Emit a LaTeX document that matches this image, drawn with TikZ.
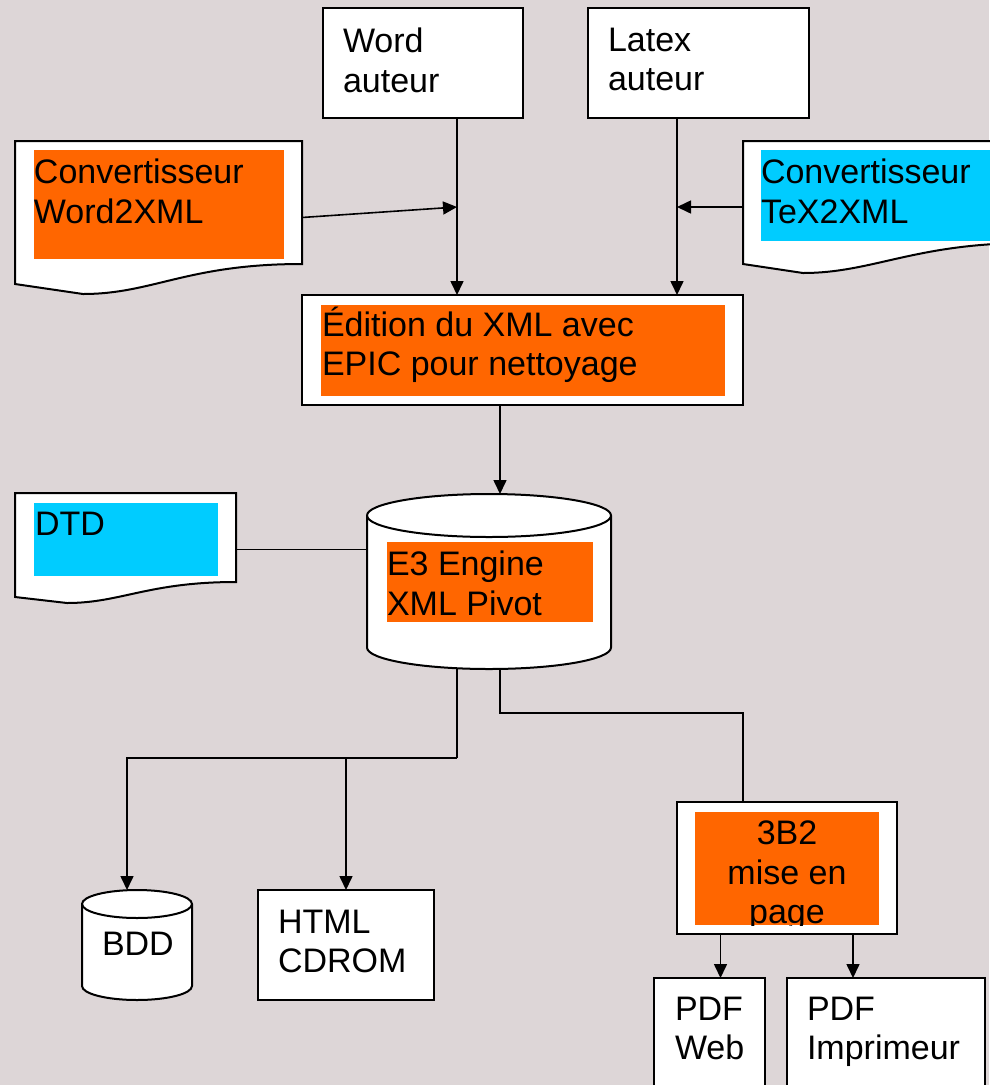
\documentclass[tikz,border=0pt]{standalone}
\usepackage{fontspec}
\setmainfont{Liberation Sans}
\usepackage{tikz}
\usetikzlibrary{positioning}
\usetikzlibrary{calc}
\usetikzlibrary{arrows.meta}

\definecolor{bgpink}{RGB}{221,214,215}
\definecolor{epicorange}{RGB}{255,102,0}
\definecolor{epiccyan}{RGB}{0,204,255}

\begin{document}
\begin{tikzpicture} [x=1pt, y=1pt]
% -------------------------------------------------
\tikzset{
  base/.style={inner sep=0, outer sep=0, anchor=north west},
  rect/.style={base, draw, fill=white, line width=2pt},
  ora/.style={base, fill=epicorange},
  cya/.style={base, fill=epiccyan},
  txt/.style={base, align=left, font=\fontsize{34}{39.5}\selectfont},
  outline/.style={draw, fill=white, line width=2pt},
  line/.style={draw, line width=1.6pt},
  arr/.style={line, -{Triangle[length=14pt,width=13pt]}}
}

    \fill [bgpink] (0,0) rectangle (989,-1085);                     % page background
    \useasboundingbox (0,0) rectangle (989,-1085);

    % documents with a wavy bottom
    \node [base, minimum width=287, minimum height=123] (w2x) at (15,-141) {};
    \path [outline] (w2x.north west) -- (w2x.north east) -- (w2x.south east)
        .. controls +(-115,0) and +(70,0) .. ($(w2x.south west)+(68,-30)$)
        -- ($(w2x.south west)+(0,-20)$) -- cycle;                   % Word2XML sheet
    \node [base, minimum width=287, minimum height=102] (tex2x) at (743,-141) {};
    \path [outline] (tex2x.north west) -- (tex2x.north east) -- (tex2x.south east)
        .. controls +(-115,0) and +(70,0) .. ($(tex2x.south west)+(60,-30)$)
        -- ($(tex2x.south west)+(0,-21)$) -- cycle;                 % TeX2XML sheet
    \node [base, minimum width=221, minimum height=89] (dtd) at (15,-493) {};
    \path [outline] (dtd.north west) -- (dtd.north east) -- (dtd.south east)
        .. controls +(-88,0) and +(54,0) .. ($(dtd.south west)+(52,-21)$)
        -- ($(dtd.south west)+(0,-15)$) -- cycle;                   % DTD sheet

    % cylinders
    \node [base, minimum width=244, minimum height=175] (e3) at (367,-494) {};
    \path [outline] (367,-515.5) -- (367,-647.5) arc (180:360:122 and 21.5)
        -- (611,-515.5) arc (0:180:122 and 21.5) -- cycle;          % E3: body
    \draw [line width=2pt] (367,-515.5) arc (180:360:122 and 21.5); % E3: front of top
    \node [base, minimum width=110, minimum height=110] (bdd) at (82,-890) {};
    \path [outline] (82,-904) -- (82,-986) arc (180:360:55 and 14)
        -- (192,-904) arc (0:180:55 and 14) -- cycle;               % BDD: body
    \draw [line width=2pt] (82,-904) arc (180:360:55 and 14);       % BDD: front of top

    % boxes
    \node [rect, minimum width=200, minimum height=110] (word) at (323,-8) {};
    \node [rect, minimum width=221, minimum height=110] (latex) at (588,-8) {};
    \node [rect, minimum width=441, minimum height=110] (edit) at (302,-295) {};
    \node [rect, minimum width=176, minimum height=110] (html) at (258,-890) {};
    \node [rect, minimum width=220, minimum height=132] (mep) at (677,-802) {};
    \node [rect, minimum width=111, minimum height=130] (pdfweb) at (654,-978) {};
    \node [rect, minimum width=198, minimum height=130] (pdfimp) at (787,-978) {};

    % coloured panels
    \node [ora, minimum width=250, minimum height=109] (w2xbg) at (34,-150) {};
    \node [cya, minimum width=260, minimum height=91] (tex2xbg) at (761,-150) {};
    \node [ora, minimum width=404, minimum height=91] (editbg) at (321,-305) {};
    \node [cya, minimum width=184, minimum height=73] (dtdbg) at (34,-503) {};
    \node [ora, minimum width=206, minimum height=80] (e3bg) at (387,-542) {};
    \node [ora, minimum width=184, minimum height=113] (mepbg) at (695,-812) {};

    % texts
    \node [txt, below right=20pt and 20pt of word.north west] (wordtxt) {Word\\auteur};
    \node [txt, below right=20pt and 20pt of latex.north west] (latextxt) {Latex\\auteur};
    \node [txt, below right=9pt and 0pt of w2xbg.north west] (w2xtxt) {Convertisseur\\Word2XML};
    \node [txt, below right=9pt and 0pt of tex2xbg.north west] (tex2xtxt) {Convertisseur\\TeX2XML};
    \node [txt, below right=2pt and 1pt of editbg.north west] (edittxt) {Édition du XML avec\\EPIC pour nettoyage};
    \node [txt, below right=9pt and 1pt of dtdbg.north west] (dtdtxt) {DTD};
    \node [txt, below right=9pt and 0pt of e3bg.north west] (e3txt) {E3 Engine\\XML Pivot};
    \node [txt, below right=42pt and 20pt of bdd.north west] (bddtxt) {BDD};
    \node [txt, below right=20pt and 20pt of html.north west] (htmltxt) {HTML\\CDROM};
    \node [txt, below right=19pt and 21pt of pdfweb.north west] (pdfwebtxt) {PDF\\Web};
    \node [txt, below right=19pt and 20pt of pdfimp.north west] (pdfimptxt) {PDF\\Imprimeur};
    \begin{scope}
      \clip (mepbg.south west) rectangle (mepbg.north east);        % "page" is cut by the panel
      \node [txt, align=center, anchor=north] (meptxt) at ([yshift=-9pt]mepbg.north) {3B2\\mise en\\page};
    \end{scope}

    % connectors
    \coordinate (wj) at (457,-207);
    \coordinate (lj) at (677,-207);
    \coordinate (e3in) at (500,-494);
    \coordinate (split) at (457,-758);

    \path [arr] (word.south -| wj) -- (edit.north -| wj);
    \path [arr] (latex.south -| lj) -- (edit.north -| lj);
    \path [arr] ([yshift=-15pt]w2x.east) -- (wj);
    \path [arr] ([yshift=-15pt]tex2x.west) -- (lj);
    \path [arr] (edit.south -| e3in) -- (e3in);
    \path [line] ([yshift=-12pt]dtd.east) -- ([yshift=-12pt]dtd.east -| e3.west);

    \path [line] (e3.south -| split) -- (split);
    \path [arr] (split) -| ([xshift=-10pt]bdd.north);
    \path [arr] (split -| html.north) -- (html.north);
    \path [line] (e3.south -| e3in) -- ++(0,-44) -| ([xshift=-44pt]mep.north);

    \path [arr] ([xshift=11pt]pdfweb.north |- mep.south) -- ([xshift=11pt]pdfweb.north);
    \path [arr] ([xshift=-33pt]pdfimp.north |- mep.south) -- ([xshift=-33pt]pdfimp.north);

\end{tikzpicture}
\end{document}
